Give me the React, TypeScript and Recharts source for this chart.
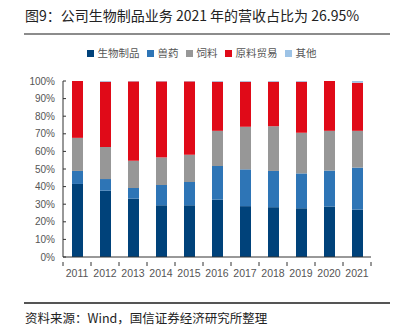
import { BarChart, Bar, XAxis, YAxis, Legend } from "recharts";

const years = ["2011", "2012", "2013", "2014", "2015", "2016", "2017", "2018", "2019", "2020", "2021"];
const bio = [41.5, 37.7, 33.2, 29.4, 29.4, 32.6, 28.9, 28.3, 27.7, 28.7, 26.95];
const vet = [7.4, 6.6, 6.0, 11.5, 13.2, 19.1, 20.9, 20.6, 19.8, 20.4, 23.85];
const feed = [18.8, 18.2, 15.5, 15.7, 15.5, 20.0, 24.2, 25.4, 23.1, 22.6, 20.9];
const trade = [32.3, 37.1, 45.1, 43.2, 41.7, 27.9, 25.6, 25.3, 29.0, 28.3, 27.3];
const other = [0, 0.4, 0.2, 0.2, 0.2, 0.4, 0.4, 0.4, 0.4, 0, 1.0];
const yTicks = [0, 10, 20, 30, 40, 50, 60, 70, 80, 90, 100];

const series = [
  { key: "bio", name: "生物制品", color: "#00427A" },
  { key: "vet", name: "兽药", color: "#2E75B6" },
  { key: "feed", name: "饲料", color: "#979797" },
  { key: "trade", name: "原料贸易", color: "#E00A18" },
  { key: "other", name: "其他", color: "#9DC3E6" },
];

const data = years.map((y, i) => ({
  year: y,
  bio: bio[i],
  vet: vet[i],
  feed: feed[i],
  trade: trade[i],
  other: other[i],
}));

const PLOT_W = 308;
const STEP = PLOT_W / years.length;

function XTick(props: any) {
  const { x, y, payload, index } = props;
  return (
    <g>
      <line x1={x - STEP / 2} x2={x - STEP / 2} y1={y - 3} y2={y + 1} stroke="#333" />
      {index === years.length - 1 && (
        <line x1={x + STEP / 2} x2={x + STEP / 2} y1={y - 3} y2={y + 1} stroke="#333" />
      )}
      <text x={x} y={y + 12} textAnchor="middle" fontSize={10.5} fill="#555">
        {payload.value}
      </text>
    </g>
  );
}

// legend drawn in series order, squares + gray text
function LegendContent() {
  return (
    <div style={{ display: "flex", justifyContent: "center", alignItems: "center", paddingLeft: 10 }}>
      {series.map((s) => (
        <span key={s.key} style={{ display: "inline-flex", alignItems: "center", marginRight: 7 }}>
          <span style={{ width: 7, height: 7, background: s.color, marginRight: 4, display: "inline-block" }} />
          <span style={{ color: "#555", fontSize: 10.5, lineHeight: "14px" }}>{s.name}</span>
        </span>
      ))}
    </div>
  );
}

export default function App() {
  return (
    <div
      style={{
        position: "absolute",
        left: 0,
        top: 0,
        width: 400,
        height: 326,
        background: "#fff",
        fontFamily: '"Liberation Sans", Arial, sans-serif',
      }}
    >
      <div
        style={{
          position: "absolute",
          left: 25,
          top: 5,
          fontSize: 14,
          color: "#222",
          fontFamily: '"Noto Sans CJK SC", sans-serif',
          whiteSpace: "nowrap",
          lineHeight: "20px",
        }}
      >
        图9：公司生物制品业务 2021 年的营收占比为 26.95%
      </div>
      <div style={{ position: "absolute", left: 24, top: 33, width: 366, height: 1.5, background: "#8c8c8c" }} />

      <BarChart
        width={400}
        height={300}
        data={data}
        margin={{ top: 67, right: 29, left: 0, bottom: 13 }}
        barSize={11}
      >
        <Legend
          verticalAlign="top"
          align="center"
          content={<LegendContent />}
          wrapperStyle={{ top: 46, left: 0, width: 400, fontFamily: '"Noto Sans CJK SC", sans-serif' }}
        />
        <XAxis
          dataKey="year"
          axisLine={{ stroke: "#333" }}
          tickLine={false}
          tick={<XTick />}
          height={30}
          interval={0}
        />
        <YAxis
          domain={[0, 100]}
          ticks={yTicks}
          width={63}
          interval={0}
          axisLine={{ stroke: "#333" }}
          tickLine={{ stroke: "#333" }}
          tickSize={-3}
          tickMargin={11}
          tickFormatter={(v: number) => `${v}%`}
          tick={{ fontSize: 10, fill: "#555" }}
        />
        {series.map((s) => (
          <Bar key={s.key} dataKey={s.key} name={s.name} stackId="a" fill={s.color} isAnimationActive={false} />
        ))}
      </BarChart>

      <div style={{ position: "absolute", left: 24, top: 302, width: 366, height: 1.5, background: "#555" }} />
      <div
        style={{
          position: "absolute",
          left: 25,
          top: 309,
          fontSize: 12.5,
          color: "#222",
          fontFamily: '"Noto Sans CJK SC", sans-serif',
          whiteSpace: "nowrap",
          lineHeight: "17px",
        }}
      >
        资料来源：Wind，国信证券经济研究所整理
      </div>
    </div>
  );
}
